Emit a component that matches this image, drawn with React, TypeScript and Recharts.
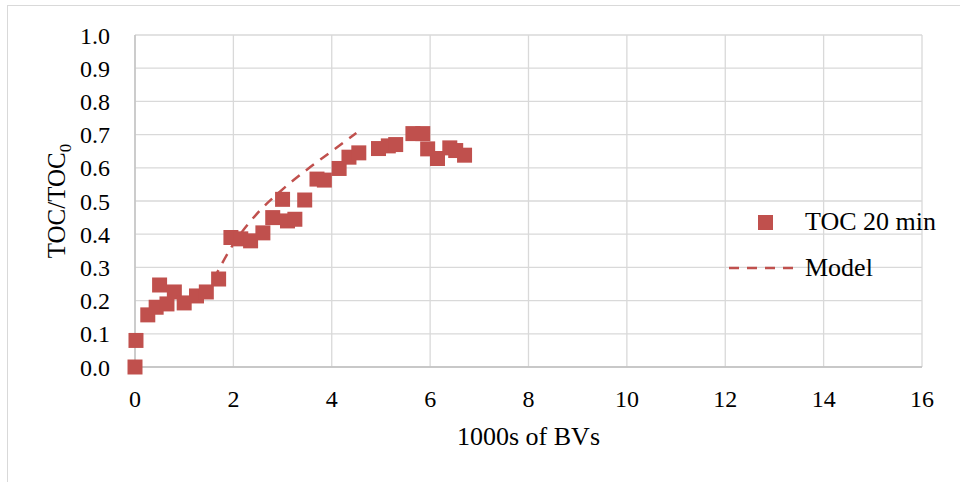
import {
  ComposedChart,
  Scatter,
  Line,
  XAxis,
  YAxis,
  ZAxis,
  CartesianGrid,
  Legend,
  Label,
} from 'recharts';

const bvs = [
  0, 0.02, 0.26, 0.43, 0.5, 0.65, 0.8, 1.0, 1.25, 1.45, 1.7, 1.95, 2.15, 2.35, 2.6, 2.8, 3.0, 3.1,
  3.25, 3.45, 3.7, 3.85, 4.15, 4.35, 4.55, 4.95, 5.15, 5.3, 5.65, 5.85, 5.95, 6.15, 6.4, 6.52, 6.7,
];
const toc20 = [
  0, 0.08, 0.157, 0.18, 0.247, 0.19, 0.226, 0.193, 0.214, 0.226, 0.265, 0.39, 0.386, 0.38, 0.404,
  0.45, 0.505, 0.44, 0.445, 0.503, 0.566, 0.563, 0.598, 0.632, 0.645, 0.658, 0.666, 0.67, 0.703,
  0.703, 0.657, 0.628, 0.66, 0.652, 0.638,
];
const modelBvs = [1.6, 2.0, 2.5, 3.0, 3.5, 4.0, 4.5];
const modelToc = [0.265, 0.37, 0.465, 0.535, 0.595, 0.65, 0.705];

const xTicks = [0, 2, 4, 6, 8, 10, 12, 14, 16];
const yTicks = [0, 0.1, 0.2, 0.3, 0.4, 0.5, 0.6, 0.7, 0.8, 0.9, 1.0];

const RED = '#C0504D';
const FONT = '"Liberation Serif", "Times New Roman", serif';

const tocData = bvs.map((x, i) => ({ x, y: toc20[i] }));
const modelData = modelBvs.map((x, i) => ({ x, y: modelToc[i] }));

function YLabel(props: any) {
  const vb = props.viewBox || { x: 0, y: 35, width: 135, height: 332 };
  const cx = vb.x + 65;
  const cy = vb.y + vb.height / 2;
  return (
    <text
      x={cx}
      y={cy}
      transform={`rotate(-90, ${cx}, ${cy})`}
      textAnchor="middle"
      fontFamily={FONT}
      fontSize={25}
      fill="#000"
    >
      TOC/TOC
      <tspan fontSize={17} dy={6}>0</tspan>
    </text>
  );
}

function LegendBox() {
  return (
    <div style={{ fontFamily: FONT, fontSize: 26, color: '#000', textAlign: 'left' }}>
      <div style={{ display: 'flex', alignItems: 'center', height: 46 }}>
        <div style={{ width: 80, display: 'flex', justifyContent: 'center' }}>
          <div style={{ width: 15, height: 15, background: RED }} />
        </div>
        <span>TOC 20 min</span>
      </div>
      <div style={{ display: 'flex', alignItems: 'center', height: 46 }}>
        <svg width={80} height={10}>
          <line x1={4} y1={5} x2={72} y2={5} stroke={RED} strokeWidth={2.5} strokeDasharray="10 8" />
        </svg>
        <span>Model</span>
      </div>
    </div>
  );
}

export default function App() {
  return (
    <div
      style={{
        position: 'fixed',
        left: 0,
        top: 0,
        width: 960,
        height: 482,
        overflow: 'hidden',
        background: '#fff',
        fontFamily: FONT,
      }}
    >
      <div
        style={{
          position: 'absolute',
          left: 7,
          top: 5,
          width: 960,
          height: 482,
          borderLeft: '1px solid #d9d9d9',
          borderTop: '1px solid #d9d9d9',
        }}
      />
      <ComposedChart
        width={960}
        height={482}
        margin={{ top: 35, right: 38, left: 0, bottom: 0 }}
        style={{ position: 'absolute', left: 0, top: 0, fontFamily: FONT }}
      >
        <CartesianGrid stroke="#d9d9d9" strokeWidth={1.3} />
        <XAxis
          type="number"
          dataKey="x"
          domain={[0, 16]}
          ticks={xTicks}
          height={115}
          tickSize={0}
          tickMargin={23}
          tickLine={false}
          axisLine={{ stroke: '#bfbfbf', strokeWidth: 1.3 }}
          tick={{ fontSize: 24, fill: '#000', fontFamily: FONT }}
        >
          <Label
            value="1000s of BVs"
            position="insideBottom"
            offset={37}
            fontSize={26}
            fill="#000"
            fontFamily={FONT}
          />
        </XAxis>
        <YAxis
          type="number"
          dataKey="y"
          domain={[0, 1]}
          ticks={yTicks}
          width={135}
          tickSize={0}
          tickMargin={25}
          tickLine={false}
          axisLine={{ stroke: '#bfbfbf', strokeWidth: 1.3 }}
          tickFormatter={(v: number) => v.toFixed(1)}
          tick={{ fontSize: 24, fill: '#000', fontFamily: FONT }}
        >
          <Label content={YLabel} />
        </YAxis>
        <ZAxis type="number" range={[225, 225]} />
        <Line
          data={modelData}
          dataKey="y"
          type="monotone"
          stroke={RED}
          strokeWidth={2.5}
          strokeDasharray="10 8"
          dot={false}
          activeDot={false}
          name="Model"
          isAnimationActive={false}
        />
        <Scatter
          data={tocData}
          dataKey="y"
          shape="square"
          fill={RED}
          name="TOC 20 min"
          isAnimationActive={false}
        />
        <Legend
          content={LegendBox}
          layout="horizontal"
          verticalAlign="middle"
          align="center"
          wrapperStyle={{ position: 'absolute', left: 725, top: 199, width: 235 }}
        />
      </ComposedChart>
    </div>
  );
}
